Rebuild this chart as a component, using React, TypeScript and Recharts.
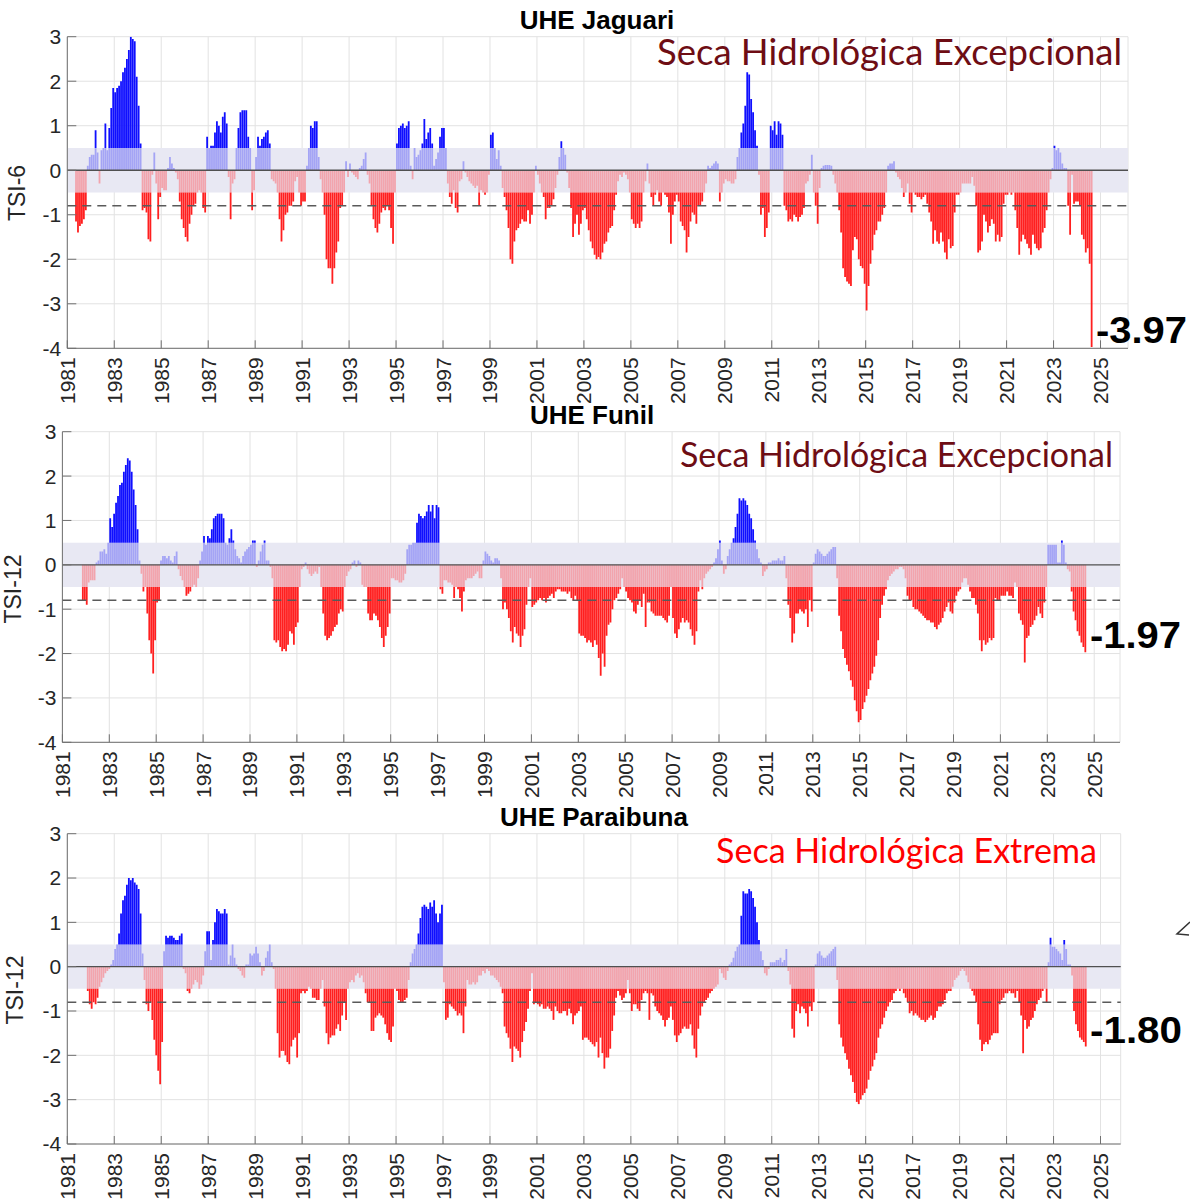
import React from "react";
import {
  BarChart,
  Bar,
  XAxis,
  YAxis,
  CartesianGrid,
  ReferenceArea,
  ReferenceLine,
  Cell,
} from "recharts";

const FONT = '"Liberation Sans", Arial, Helvetica, sans-serif';
const LABEL_FONT = 'Lato, "Open Sans", sans-serif';

const yearTicks = [
  1981, 1983, 1985, 1987, 1989, 1991, 1993, 1995, 1997, 1999, 2001, 2003,
  2005, 2007, 2009, 2011, 2013, 2015, 2017, 2019, 2021, 2023, 2025,
];
const tsiTicks = [-4, -3, -2, -1, 0, 1, 2, 3];

// monthly values from Jan 1981, null = not computed yet
const jaguariTsi6 = [
  null, null, null, null, -1.15, -1.4, -1.25, -1.2, -1.1, -0.9, 0.1, 0.3,
  0.35, 0.35, 0.9, 0.4, -0.3, 0.45, 0.5, 1.05, 0.45, 0.95, 1.4, 1.85,
  1.75, 1.85, 1.9, 2.0, 2.2, 2.3, 2.5, 2.7, 3.0, 2.95, 2.9, 2.1,
  1.45, 0.6, -0.9, -0.85, -0.95, -1.55, -1.6, -0.1, 0.4, -0.3, -1.1, -0.6,
  -0.4, -0.45, -0.45, 0.05, 0.3, 0.15, 0.05, -0.05, -0.2, -0.7, -1.1, -1.3,
  -1.5, -1.6, -1.2, -1.0, -0.8, -0.75, -0.5, -0.45, -0.5, -0.85, -0.95, 0.75,
  0.5, 0.55, 0.55, 0.85, 1.1, 1.0, 0.85, 1.2, 1.3, 1.05, -0.15, -1.1,
  -0.3, -0.2, 0.5, 0.95, 1.3, 1.35, 1.35, 1.35, 0.75, 0.5, -0.9, -0.45,
  0.3, 0.75, 0.55, 0.7, 0.75, 0.85, 0.9, 0.6, -0.2, -0.25, -0.3, -0.5,
  -1.1, -1.6, -1.35, -1.0, -0.95, -0.8, -0.8, -0.7, -0.25, -0.15, -0.5, -0.8,
  -0.7, -0.7, 0.1, 0.5, 1.0, 0.95, 1.1, 1.1, 0.3, -0.2, -0.5, -1.0,
  -2.0, -2.2, -2.2, -2.55, -2.2, -1.85, -1.6, -0.85, -0.8, -0.5, 0.2, -0.15,
  0.15, -0.05, -0.1, -0.15, -0.2, 0.05, 0.1, 0.25, 0.4, -0.1, -0.3, -0.8,
  -1.1, -1.3, -1.4, -1.2, -0.95, -0.85, -0.9, -0.8, -0.9, -1.3, -1.65, -0.5,
  0.6, 0.95, 1.0, 1.05, 0.95, 1.0, 1.1, 0.1, -0.2, 0.5, 0.3, 0.35,
  0.45, 0.6, 1.15, 0.7, 0.85, 0.95, 0.6, 0.1, 0.25, 0.4, 0.75, 0.95,
  0.95, 0.5, -0.3, -0.6, -0.75, -0.45, -0.85, -0.95, -0.25, -0.2, 0.2, -0.05,
  -0.15, -0.25, -0.3, -0.35, -0.4, -0.35, -0.8, -0.45, -0.5, -0.55, -0.5, -0.1,
  0.8, 0.85, 0.5, 0.25, 0.45, 0.1, -0.4, -0.6, -0.9, -1.3, -2.0, -2.1,
  -1.6, -1.35, -1.3, -1.2, -1.1, -1.15, -1.15, -0.9, -1.2, -1.0, -0.5, 0.1,
  -0.1, -0.3, -0.5, -0.6, -1.1, -0.85, -0.85, -0.8, -0.65, -0.4, -0.1, 0.3,
  0.65, 0.5, 0.35, -0.05, -0.4, -0.85, -1.5, -1.2, -1.0, -1.45, -1.2, -0.9,
  -0.85, -1.1, -1.35, -1.6, -1.75, -1.9, -2.0, -1.95, -2.0, -1.85, -1.65, -1.6,
  -1.4, -1.3, -1.25, -0.9, -0.55, -0.25, -0.1, -0.15, -0.05, -0.1, -0.2, -0.5,
  -1.1, -1.2, -1.3, -1.2, -1.3, -1.15, -0.5, -0.25, 0.15, -0.3, -0.6, -0.8,
  -0.55, -0.45, -0.7, -0.8, -0.5, -0.55, -0.6, -0.95, -1.65, -1.0, -0.7, -0.55,
  -0.7, -1.15, -1.25, -1.35, -1.85, -1.5, -1.15, -0.95, -1.0, -1.2, -0.8, -0.8,
  -0.7, -0.5, -0.3, 0.1, 0.05, 0.1, 0.15, 0.2, 0.15, -0.7, -0.5, -0.3,
  -0.2, -0.25, -0.25, -0.3, -0.3, -0.2, 0.3, 0.5, 0.85, 1.05, 1.45, 2.2,
  2.15, 1.6, 1.3, 0.9, 0.55, -0.1, -1.0, -0.85, -1.5, -1.3, -0.95, 1.0,
  0.9, 1.1, 0.8, 1.1, 1.05, 0.8, -0.8, -0.9, -1.15, -1.1, -1.15, -1.0,
  -1.05, -1.15, -1.05, -1.0, -0.85, -0.3, -0.25, -0.1, 0.35, -0.5, -0.8, -1.2,
  -0.4, 0.05, 0.1, 0.12, 0.12, 0.12, 0.1, -0.1, -0.3, -0.5, -0.9, -1.4,
  -2.2, -2.4, -2.5, -2.55, -2.6, -1.8, -1.5, -1.55, -2.0, -2.15, -2.2, -2.55,
  -3.15, -2.6, -2.1, -1.8, -1.45, -1.35, -1.15, -1.15, -1.0, -0.85, -0.5, 0.1,
  0.15, 0.15, 0.2, -0.05, -0.15, -0.2, -0.4, -0.6, -0.5, -0.3, -0.75, -0.95,
  -0.5, -0.55, -0.6, -0.6, -0.65, -0.6, -0.55, -0.75, -0.95, -1.15, -1.65, -1.35,
  -1.6, -1.65, -1.4, -1.6, -1.85, -2.0, -1.55, -1.75, -1.7, -0.95, -0.55, -0.55,
  -0.5, -0.3, -0.3, -0.3, -0.3, -0.3, -0.15, -0.35, -0.8, -1.85, -1.8, -1.6,
  -1.0, -1.15, -1.4, -1.25, -1.1, -1.2, -1.6, -1.45, -1.6, -1.5, -0.75, -0.55,
  -0.55, -0.5, -0.55, -0.5, -0.9, -1.3, -1.9, -1.6, -1.45, -1.55, -1.65, -1.75,
  -1.9, -1.45, -1.65, -1.75, -1.8, -1.75, -1.4, -1.3, -0.9, -0.5, -0.2, 0.05,
  0.55, 0.45, 0.5, 0.4, 0.15, 0.05, 0.05, -0.8, -1.45, -0.1, -0.75, -0.7,
  -0.7, -0.8, -1.45, -1.55, -1.85, -1.75, -2.1, -3.97,
];

const funilTsi12 = [
  null, null, null, null, null, null, null, null, null, null, -0.8, -0.8,
  -0.9, -0.4, -0.35, -0.35, -0.35, 0.05, 0.1, 0.3, 0.3, 0.35, 0.25, 0.5,
  1.05, 0.85, 1.15, 1.4, 1.55, 1.8, 1.85, 2.1, 2.25, 2.4, 2.35, 2.1,
  1.7, 1.35, 0.8, 0.1, -0.2, -0.6, -0.5, -1.1, -1.7, -2.0, -2.45, -1.7,
  -0.85, -0.8, 0.1, 0.2, 0.2, 0.15, 0.2, 0.1, 0.05, 0.2, 0.3, -0.1,
  -0.25, -0.35, -0.5, -0.7, -0.65, -0.6, -0.5, -0.45, -0.5, -0.3, 0.1, 0.3,
  0.65, 0.45, 0.65, 0.6, 0.8, 1.05, 1.1, 1.15, 1.15, 1.15, 1.05, 0.5,
  0.45, 0.6, 0.8, 0.55, 0.35, 0.2, 0.15, 0.05, 0.2, 0.3, 0.35, 0.4,
  0.45, 0.55, 0.55, -0.05, 0.1, 0.3, 0.45, 0.55, 0.1, 0.1, -0.05, -0.3,
  -1.7, -1.75, -1.7, -1.85, -1.95, -1.9, -1.95, -1.8, -1.5, -1.55, -1.8, -1.4,
  -1.3, -0.5, -0.1, -0.05, 0.05, -0.1, -0.2, -0.25, -0.2, -0.15, -0.2, -0.05,
  -0.5, -1.1, -1.6, -1.7, -1.65, -1.6, -1.5, -1.4, -1.35, -1.1, -1.0, -1.05,
  -0.5, -0.25, -0.15, -0.1, 0.05, 0.1, -0.05, 0.1, 0.05, -0.45, -0.5, -0.5,
  -1.1, -1.25, -1.25, -1.1, -1.15, -1.25, -1.4, -1.65, -1.85, -1.6, -1.4, -1.1,
  -0.3, -0.3, -0.35, -0.35, -0.4, -0.4, -0.35, -0.2, 0.35, 0.45, 0.45, 0.5,
  0.5, 0.95, 1.15, 1.1, 1.05, 1.1, 1.2, 1.35, 1.2, 1.35, 1.05, 1.35,
  1.3, -0.55, -0.65, -0.35, -0.35, -0.4, -0.4, -0.45, -0.75, -0.5, -0.55, -0.75,
  -1.05, -0.6, -0.35, -0.3, -0.3, -0.3, -0.25, -0.2, -0.15, -0.3, -0.3, 0.1,
  0.3, 0.25, 0.2, 0.1, 0.05, 0.15, 0.15, 0.1, -0.3, -1.0, -0.85, -1.0,
  -1.2, -1.5, -1.75, -1.4, -1.55, -1.6, -1.85, -1.6, -1.45, -0.9, -0.5, -0.3,
  -0.95, -0.9, -0.85, -0.8, -0.75, -0.8, -0.75, -0.85, -0.75, -0.7, -0.65, -0.75,
  -0.6, -0.55, -0.55, -0.6, -0.6, -0.6, -0.65, -0.6, -0.75, -0.8, -0.7, -0.8,
  -1.55, -1.6, -1.6, -1.65, -1.75, -1.7, -1.75, -1.85, -1.7, -1.8, -2.1, -2.5,
  -2.0, -2.3, -1.6, -1.35, -1.3, -1.0, -0.8, -0.75, -0.65, -0.55, -0.3, -0.5,
  -0.6, -0.75, -0.8, -0.85, -1.05, -1.1, -0.9, -0.8, -0.95, -0.65, -1.4, -0.85,
  -0.85, -1.05, -1.1, -1.15, -1.15, -1.15, -1.15, -1.2, -1.25, -1.3, -1.15, -0.5,
  -1.2, -1.55, -1.65, -1.45, -1.3, -1.2, -1.3, -1.25, -1.3, -1.45, -1.6, -1.8,
  -1.5, -0.6, -0.35, -0.55, -0.3, -0.2, -0.15, -0.1, -0.05, 0.05, 0.15, 0.35,
  0.55, 0.1, -0.2, -0.1, 0.2, 0.35, 0.5, 0.6, 0.85, 1.15, 1.5, 1.45,
  1.5, 1.45, 1.35, 1.15, 1.05, 0.8, 0.55, 0.35, 0.15, 0.05, -0.25, -0.15,
  -0.1, 0.05, 0.05, 0.1, 0.1, 0.1, 0.15, 0.1, 0.1, 0.2, -0.3, -0.9,
  -1.2, -1.75, -1.55, -1.1, -1.1, -1.0, -1.05, -1.1, -1.0, -1.4, -0.8, -1.05,
  0.05, 0.25, 0.35, 0.3, 0.25, 0.2, 0.2, 0.25, 0.3, 0.35, 0.4, 0.4,
  -0.3, -1.15, -1.5, -1.9, -2.1, -2.25, -2.4, -2.6, -2.75, -3.05, -3.3, -3.55,
  -3.5, -3.25, -3.1, -2.95, -2.8, -2.6, -2.45, -2.3, -2.05, -1.7, -1.2, -0.9,
  -0.7, -0.55, -0.35, -0.25, -0.2, -0.15, -0.1, -0.1, -0.05, -0.05, -0.1, -0.3,
  -0.7, -0.8, -0.8, -0.95, -1.0, -1.0, -1.05, -1.1, -1.15, -1.2, -1.25, -1.25,
  -1.3, -1.3, -1.4, -1.45, -1.35, -1.3, -1.2, -1.05, -0.95, -0.85, -1.05, -1.1,
  -0.85, -0.7, -0.6, -0.55, -0.4, -0.3, -0.3, -0.45, -0.6, -0.75, -0.75, -0.9,
  -1.1, -1.7, -1.95, -1.7, -1.8, -1.75, -1.65, -1.7, -1.65, -0.75, -0.8, -0.8,
  -0.7, -0.7, -0.7, -0.6, -0.7, -0.7, -0.75, -0.4, -0.5, -1.1, -1.25, -1.35,
  -2.2, -1.65, -1.6, -1.4, -1.35, -1.25, -1.15, -0.95, -1.1, -1.2, -0.85, -0.5,
  0.45, 0.45, 0.45, 0.45, 0.45, 0.05, 0.05, 0.55, 0.45, 0.05, -0.1, -0.15,
  -0.6, -1.05, -1.25, -1.5, -1.6, -1.75, -1.85, -1.97,
];

const paraibunaTsi12 = [
  null, null, null, null, null, null, null, null, null, null, -0.55, -0.85,
  -0.95, -0.8, -0.85, -0.7, -0.45, -0.35, -0.25, -0.15, -0.1, -0.05, 0.05, 0.15,
  0.4, 0.5, 0.75, 1.2, 1.5, 1.6, 1.85, 2.0, 1.95, 2.0, 1.9, 1.85,
  1.75, 1.2, 0.3, -0.3, -0.85, -1.0, -0.8, -1.2, -1.65, -2.0, -2.35, -2.65,
  -1.7, 0.35, 0.7, 0.65, 0.7, 0.7, 0.65, 0.6, 0.6, 0.7, 0.75, -0.05,
  -0.15, -0.55, -0.6, -0.5, -0.4, -0.3, -0.35, -0.5, -0.4, -0.2, 0.35, 0.8,
  0.8, 0.15, 0.6, 1.0, 1.3, 1.25, 1.2, 1.2, 1.3, 1.2, 0.05, 0.25,
  0.5, 0.2, 0.05, -0.05, -0.1, -0.2, -0.25, 0.05, 0.05, 0.3, 0.25, 0.3,
  0.45, 0.3, 0.1, -0.2, -0.1, 0.2, 0.35, 0.5, 0.1, -0.05, -0.5, -1.5,
  -2.05, -1.9, -1.9, -2.0, -2.15, -2.2, -1.8, -1.65, -1.6, -2.05, -1.5, -0.6,
  -0.55, -0.6, -0.55, -0.45, -0.5, -0.7, -0.7, -0.75, -0.75, -0.5, -0.3, -0.9,
  -1.5, -1.75, -1.6, -1.55, -1.55, -1.4, -1.3, -1.45, -1.1, -0.8, -1.2, -0.5,
  -0.35, -0.3, -0.35, -0.2, -0.15, -0.25, -0.2, -0.35, -0.6, -0.8, -0.8, -1.45,
  -1.45, -1.15, -1.1, -1.05, -1.1, -1.15, -1.3, -1.5, -1.65, -1.7, -1.35, -0.5,
  -0.55, -0.75, -0.8, -0.8, -0.75, -0.7, -0.3, 0.1, 0.3, 0.4, 0.5, 0.75,
  1.1, 1.35, 1.4, 1.35, 1.3, 1.45, 1.35, 1.5, 1.2, 1.0, 1.2, 1.4,
  -0.35, -1.2, -1.15, -0.85, -0.9, -0.95, -1.0, -1.1, -1.05, -1.1, -1.5, -0.9,
  -0.3, -0.4, -0.4, -0.35, -0.4, -0.35, -0.2, -0.2, -0.1, -0.15, -0.05, -0.1,
  -0.2, -0.2, -0.25, -0.3, -0.35, -0.45, -0.6, -1.35, -1.5, -1.6, -1.85, -2.15,
  -1.8, -1.85, -1.9, -2.05, -1.7, -1.45, -1.25, -0.95, -0.55, -0.15, -0.85, -0.8,
  -0.85, -0.9, -0.85, -0.95, -0.95, -0.9, -0.95, -1.0, -1.2, -0.9, -1.0, -1.05,
  -1.05, -1.0, -1.0, -1.1, -0.95, -1.05, -1.3, -1.1, -1.05, -1.0, -0.9, -1.65,
  -1.6, -1.6, -1.65, -1.7, -1.75, -1.8, -1.7, -2.05, -1.6, -1.95, -2.3, -2.05,
  -2.05, -1.85, -1.45, -1.1, -0.7, -0.55, -0.65, -0.75, -0.7, -0.6, -0.3, -0.6,
  -1.0, -0.85, -0.85, -0.95, -1.0, -0.75, -0.6, -0.55, -0.6, -1.2, -0.6, -0.65,
  -0.9, -1.0, -1.05, -1.1, -1.2, -1.35, -1.2, -1.15, -0.9, -1.2, -1.55, -1.7,
  -1.55, -1.5, -1.4, -1.35, -1.4, -1.4, -1.3, -1.55, -1.85, -2.05, -1.4, -1.1,
  -0.9, -0.8, -0.75, -0.7, -0.6, -0.55, -0.5, -0.45, -0.4, -0.05, -0.15, -0.25,
  -0.3, -0.1, 0.05, 0.1, 0.2, 0.35, 0.45, 0.5, 1.15, 1.7, 1.65, 1.65,
  1.75, 1.7, 1.55, 1.35, 1.0, 0.6, 0.35, 0.15, -0.15, -0.2, -0.05, 0.1,
  0.1, 0.1, 0.15, 0.15, 0.2, 0.1, 0.15, 0.4, -0.1, -0.4, -1.4, -1.6,
  -1.0, -0.85, -1.05, -0.9, -0.95, -1.05, -1.35, -0.9, -1.0, -0.8, 0.05, 0.3,
  0.35, 0.25, 0.2, 0.2, 0.25, 0.3, 0.35, 0.4, 0.45, -0.3, -1.3, -1.6,
  -1.8, -1.95, -2.1, -2.3, -2.45, -2.6, -2.85, -3.05, -3.1, -3.0, -2.9, -2.85,
  -2.75, -2.55, -2.35, -2.25, -2.1, -1.95, -1.6, -1.4, -1.3, -1.15, -1.0, -0.9,
  -0.8, -0.75, -0.6, -0.55, -0.5, -0.55, -0.5, -0.6, -0.7, -0.8, -1.05, -1.0,
  -1.1, -1.05, -1.1, -1.15, -1.2, -1.2, -1.25, -1.2, -1.15, -1.1, -1.2, -1.15,
  -1.0, -0.9, -0.9, -0.85, -0.75, -0.6, -0.55, -0.55, -0.45, -0.3, -0.25, -0.2,
  -0.1, -0.05, -0.1, -0.2, -0.35, -0.5, -0.55, -0.65, -0.8, -1.3, -1.65, -1.9,
  -1.75, -1.7, -1.75, -1.65, -1.55, -1.5, -1.5, -1.5, -0.85, -0.75, -0.7, -0.6,
  -0.6, -0.55, -0.6, -0.6, -0.7, -0.55, -0.8, -1.1, -1.95, -1.2, -1.4, -1.35,
  -1.2, -1.15, -1.0, -0.85, -0.75, -0.7, -0.55, -0.5, -0.8, 0.1, 0.65, 0.45,
  0.45, 0.4, 0.35, 0.3, 0.15, 0.6, 0.4, 0.05, 0.05, -0.2, -1.0, -1.3,
  -1.45, -1.6, -1.65, -1.7, -1.8,
];

const NORMAL_BAND = 0.5;
const DROUGHT_LEVEL = -0.8;

const COLORS = {
  band: "#e8e8f3",
  wetLight: "#a4a4f5",
  wet: "#0f0fff",
  dryLight: "#f2a4ad",
  dry: "#ff1f1f",
  grid: "#e2e2e2",
  axis: "#707070",
  zero: "#505050",
  dash: "#5a5a5a",
  text: "#262626",
};

type Row = { t: number; v: number; inner: number; outer: number };

// split each month into the part inside the normal band and the part beyond it
const toRows = (values: (number | null)[]): Row[] => {
  const rows: Row[] = [];
  values.forEach((v, i) => {
    if (v === null) return;
    const inner = Math.max(-NORMAL_BAND, Math.min(NORMAL_BAND, v));
    rows.push({ t: 1981 + (i + 0.5) / 12, v, inner, outer: +(v - inner).toFixed(3) });
  });
  return rows;
};

const Y_AXIS_W = 50;
const X_AXIS_H = 50;

const XTick = (props: any) => {
  const { x, y, payload } = props;
  return (
    <text
      x={x}
      y={y}
      transform={`rotate(-90 ${x} ${y})`}
      textAnchor="end"
      dominantBaseline="central"
      fontSize={21}
      fill={COLORS.text}
      fontFamily={FONT}
    >
      {payload.value}
    </text>
  );
};

interface PanelProps {
  rows: Row[];
  top: number;
  height: number;
  plot: { left: number; top: number; right: number; bottom: number };
  xMax: number;
}

const TsiPanel = ({ rows, top, height, plot, xMax }: PanelProps) => {
  return (
    <div style={{ position: "absolute", left: 0, top, width: 1190, height }}>
      <BarChart
        width={1190}
        height={height}
        data={rows}
        stackOffset="sign"
        barSize={1.8}
        margin={{
          top: plot.top - top,
          left: plot.left - Y_AXIS_W,
          right: 1190 - plot.right,
          bottom: height - (plot.bottom - top) - X_AXIS_H,
        }}
      >
        <CartesianGrid stroke={COLORS.grid} />
        <ReferenceArea
          y1={-NORMAL_BAND}
          y2={NORMAL_BAND}
          fill={COLORS.band}
          fillOpacity={1}
          stroke="none"
        />
        <XAxis
          type="number"
          dataKey="t"
          domain={[1981, xMax]}
          ticks={yearTicks}
          interval={0}
          allowDataOverflow
          height={X_AXIS_H}
          tick={XTick}
          tickSize={-8}
          tickMargin={17}
          axisLine={{ stroke: COLORS.axis }}
          tickLine={{ stroke: COLORS.axis }}
        />
        <YAxis
          type="number"
          domain={[-4, 3]}
          ticks={tsiTicks}
          interval={0}
          allowDataOverflow
          width={Y_AXIS_W}
          tickSize={-9}
          tickMargin={15}
          tick={{ fontSize: 21, fill: COLORS.text, fontFamily: FONT }}
          axisLine={{ stroke: COLORS.axis }}
          tickLine={{ stroke: COLORS.axis }}
        />
        <Bar dataKey="inner" stackId="tsi" isAnimationActive={false}>
          {rows.map((r, i) => (
            <Cell key={`in-${i}`} fill={r.v >= 0 ? COLORS.wetLight : COLORS.dryLight} />
          ))}
        </Bar>
        <Bar dataKey="outer" stackId="tsi" isAnimationActive={false}>
          {rows.map((r, i) => (
            <Cell key={`out-${i}`} fill={r.v >= 0 ? COLORS.wet : COLORS.dry} />
          ))}
        </Bar>
        <ReferenceLine y={0} stroke={COLORS.zero} strokeWidth={1.3} />
        <ReferenceLine
          y={DROUGHT_LEVEL}
          stroke={COLORS.dash}
          strokeWidth={1.5}
          strokeDasharray="9 6"
        />
      </BarChart>
    </div>
  );
};

const jaguariRows = toRows(jaguariTsi6);
const funilRows = toRows(funilTsi12);
const paraibunaRows = toRows(paraibunaTsi12);

export default function App() {
  return (
    <div
      style={{
        position: "absolute",
        left: 0,
        top: 0,
        width: 1190,
        height: 1201,
        background: "#fff",
        overflow: "hidden",
      }}
    >
      <TsiPanel
        rows={jaguariRows}
        top={0}
        height={410}
        plot={{ left: 67.3, top: 36.7, right: 1128, bottom: 348.3 }}
        xMax={2026.17}
      />
      <TsiPanel
        rows={funilRows}
        top={395}
        height={410}
        plot={{ left: 62.4, top: 431.7, right: 1120, bottom: 742.3 }}
        xMax={2026.1}
      />
      <TsiPanel
        rows={paraibunaRows}
        top={797}
        height={404}
        plot={{ left: 67.3, top: 833.7, right: 1120.7, bottom: 1144 }}
        xMax={2025.86}
      />

      <svg
        width={1190}
        height={1201}
        style={{ position: "absolute", left: 0, top: 0, pointerEvents: "none" }}
      >
        <g fontFamily={FONT} fontWeight="bold" fontSize={26} fill="#000" textAnchor="middle">
          <text x={597} y={29}>UHE Jaguari</text>
          <text x={592} y={424}>UHE Funil</text>
          <text x={594} y={826}>UHE Paraibuna</text>
        </g>

        <g fontFamily={FONT} fontSize={23} fill={COLORS.text} textAnchor="middle" dominantBaseline="central">
          <text transform="translate(17 193) rotate(-90)">TSI-6</text>
          <text transform="translate(13 589) rotate(-90)">TSI-12</text>
          <text transform="translate(15 990) rotate(-90)">TSI-12</text>
        </g>

        <g fontFamily={LABEL_FONT}>
          <text x={657} y={65} fontSize={37} fill="#6e0d14" textLength={465} lengthAdjust="spacingAndGlyphs">
            Seca Hidrológica Excepcional
          </text>
          <text x={680} y={467} fontSize={35} fill="#6e0d14" textLength={433} lengthAdjust="spacingAndGlyphs">
            Seca Hidrológica Excepcional
          </text>
          <text x={716} y={863} fontSize={34} fill="#ff0000" textLength={381} lengthAdjust="spacingAndGlyphs">
            Seca Hidrológica Extrema
          </text>
        </g>

        <g fontFamily={FONT} fontWeight="bold" fontSize={36} fill="#000">
          <text x={1096} y={343} textLength={91} lengthAdjust="spacingAndGlyphs">-3.97</text>
          <text x={1090} y={648} textLength={91} lengthAdjust="spacingAndGlyphs">-1.97</text>
          <text x={1090} y={1043} textLength={92} lengthAdjust="spacingAndGlyphs">-1.80</text>
        </g>

        <path d="M1190 922 L1177 934 L1189 935" fill="none" stroke="#333" strokeWidth={1.5} />
      </svg>
    </div>
  );
}
